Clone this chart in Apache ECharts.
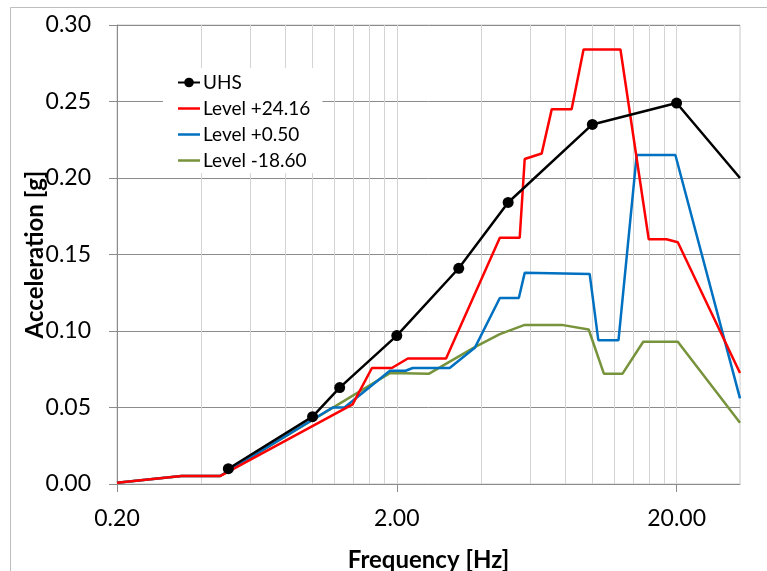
<!DOCTYPE html>
<html lang="en">
<head>
    <meta charset="utf-8" />
    <title>Acceleration spectra</title>
    <script type="text/javascript" src="https://cdn.jsdelivr.net/npm/echarts@6.0.0/dist/echarts.min.js"></script>
    <style type="text/css">
        html, body { margin: 0; padding: 0; background: #fff; }
        #main { width: 767px; height: 571px; }
    </style>
</head>
<body>
    <div id="main"></div>
    <script type="text/javascript">
        // frequencies [Hz] and accelerations [g]
        var uhsFreq = [0.5, 1.0, 1.25, 2.0, 3.33, 5.0, 10.0, 20.0, 33.7];
        var uhsAcc = [0.010, 0.044, 0.063, 0.097, 0.141, 0.184, 0.235, 0.249, 0.200];

        var lvl1Freq = [0.2, 0.34, 0.467, 1.39, 1.63, 1.92, 2.19, 3.0, 4.67, 5.5, 5.73, 6.59, 7.16, 8.43, 9.3, 12.6, 15.9, 18.4, 20.2, 33.7];
        var lvl1Acc = [0.0008, 0.0052, 0.0052, 0.052, 0.0758, 0.0758, 0.082, 0.082, 0.161, 0.161, 0.2124, 0.216, 0.245, 0.245, 0.284, 0.284, 0.160, 0.160, 0.158, 0.0725];

        var lvl2Freq = [0.2, 0.34, 0.467, 1.18, 1.30, 1.89, 2.15, 2.28, 3.09, 3.80, 4.67, 5.46, 5.73, 9.78, 10.5, 12.4, 14.4, 19.8, 33.7];
        var lvl2Acc = [0.0008, 0.0052, 0.0052, 0.050, 0.050, 0.074, 0.074, 0.0758, 0.0758, 0.089, 0.1216, 0.1216, 0.138, 0.1373, 0.094, 0.094, 0.215, 0.215, 0.056];

        var lvl3Freq = [0.2, 0.34, 0.467, 1.89, 2.6, 3.8, 4.67, 5.73, 7.77, 9.7, 11.0, 12.8, 15.2, 20.2, 33.7];
        var lvl3Acc = [0.0008, 0.0052, 0.0052, 0.0725, 0.072, 0.0895, 0.098, 0.104, 0.104, 0.101, 0.072, 0.072, 0.093, 0.093, 0.040];

        var seriesNames = ['UHS', 'Level +24.16', 'Level +0.50', 'Level -18.60'];
        var xTickValues = [0.2, 2, 20];
        var minorFreqs = [0.4, 0.6, 0.8, 1.0, 1.2, 1.4, 1.6, 1.8, 4, 6, 8, 10, 12, 14, 16, 18];

        function pairs(xs, ys) {
            return xs.map(function (x, i) { return [x, ys[i]]; });
        }

        var uhsData = pairs(uhsFreq, uhsAcc);
        // the last UHS point sits on the plot edge, no marker there
        uhsData[uhsData.length - 1] = { value: uhsData[uhsData.length - 1], symbol: 'none' };

        // plain line icon for the series drawn without markers
        var lineIcon = 'path://M0,0 L22,0 L22,2.5 L0,2.5 Z';
        var legendItems = seriesNames.map(function (n, i) {
            return i === 0 ? { name: n } : { name: n, icon: lineIcon };
        });

        var font = 'Lato, "Open Sans", sans-serif';
        var myChart = echarts.init(document.getElementById('main'));

        var option = {
            animation: false,
            textStyle: { fontFamily: font },
            graphic: [{
                type: 'rect',
                z: -10,
                shape: { x: 10.5, y: 7.5, width: 800, height: 600 },
                style: { fill: 'none', stroke: '#bdbdbd', lineWidth: 1 }
            }],
            grid: {
                left: 117, right: 27, top: 25, bottom: 87,
                outerBoundsMode: 'none',
                containLabel: false,
                show: true, borderColor: '#c8c8c8', borderWidth: 1
            },
            legend: {
                data: legendItems,
                orient: 'vertical',
                left: 163, top: 68,
                padding: [2, 12, 0, 14],
                backgroundColor: '#fff',
                itemWidth: 22, itemHeight: 12, itemGap: 1,
                textStyle: { fontSize: 19, fontFamily: font, color: '#000', lineHeight: 25, padding: [0, 0, 0, -2] }
            },
            xAxis: {
                type: 'log',
                logBase: 10,
                min: 0.2,
                max: 33.7,
                name: 'Frequency [Hz]',
                nameLocation: 'middle',
                nameGap: 64,
                nameTextStyle: { fontSize: 24, fontWeight: 'bold', color: '#000', fontFamily: font },
                axisLine: { show: true, lineStyle: { color: '#8c8c8c' } },
                axisTick: { show: true, length: 8, customValues: xTickValues, lineStyle: { color: '#8c8c8c' } },
                axisLabel: {
                    customValues: xTickValues,
                    fontSize: 23, margin: 23, color: '#000', fontFamily: font,
                    formatter: function (v) { return Number(v).toFixed(2); }
                },
                splitLine: { show: true, lineStyle: { color: '#d4d4d4' } }
            },
            yAxis: {
                type: 'value',
                min: 0,
                max: 0.30,
                interval: 0.05,
                name: 'Acceleration [g]',
                nameLocation: 'middle',
                nameGap: 70,
                nameMoveOverlap: false,
                nameTextStyle: { fontSize: 24, fontWeight: 'bold', color: '#000', fontFamily: font },
                axisLine: { show: true, lineStyle: { color: '#8c8c8c' } },
                axisTick: { show: true, length: 8, lineStyle: { color: '#8c8c8c' } },
                axisLabel: {
                    fontSize: 23, margin: 26, color: '#000', fontFamily: font,
                    formatter: function (v) { return v.toFixed(2); }
                },
                splitLine: { show: true, lineStyle: { color: '#8c8c8c' } }
            },
            series: [
                {
                    name: 'minor-grid',
                    type: 'line',
                    data: [],
                    silent: true,
                    markLine: {
                        z: 1,
                        silent: true,
                        animation: false,
                        symbol: ['none', 'none'],
                        label: { show: false },
                        lineStyle: { color: '#d4d4d4', type: 'solid', width: 1 },
                        data: minorFreqs.map(function (f) { return { xAxis: f }; })
                    }
                },
                {
                    name: seriesNames[0],
                    type: 'line',
                    data: uhsData,
                    symbol: 'circle',
                    symbolSize: 11,
                    color: '#000000',
                    lineStyle: { width: 2.5, color: '#000000' },
                    itemStyle: { color: '#000000' },
                    z: 6
                },
                {
                    name: seriesNames[1],
                    type: 'line',
                    data: pairs(lvl1Freq, lvl1Acc),
                    symbol: 'none',
                    color: '#ff0000',
                    lineStyle: { width: 2.5, color: '#ff0000' },
                    z: 5
                },
                {
                    name: seriesNames[2],
                    type: 'line',
                    data: pairs(lvl2Freq, lvl2Acc),
                    symbol: 'none',
                    color: '#0070c0',
                    lineStyle: { width: 2.5, color: '#0070c0' },
                    z: 4
                },
                {
                    name: seriesNames[3],
                    type: 'line',
                    data: pairs(lvl3Freq, lvl3Acc),
                    symbol: 'none',
                    color: '#77933c',
                    lineStyle: { width: 2.5, color: '#77933c' },
                    z: 3
                }
            ]
        };
        myChart.setOption(option);
    </script>
</body>
</html>
